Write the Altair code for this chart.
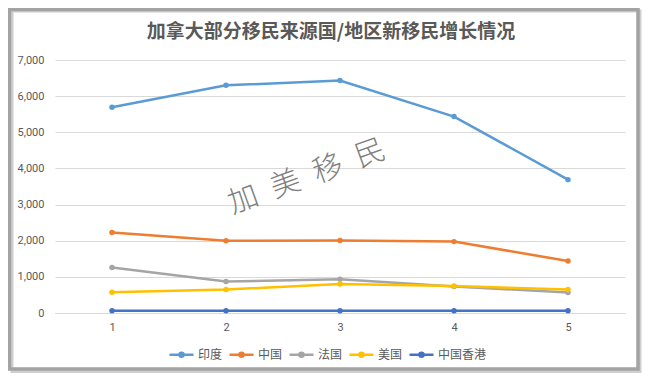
import altair as alt
import pandas as pd

title_text = "加拿大部分移民来源国/地区新移民增长情况"
watermark_text = "加\u2002美\u2002移\u2002民"

years = [1, 2, 3, 4, 5]
series = ["印度", "中国", "法国", "美国", "中国香港"]
india = [5690, 6300, 6430, 5435, 3690]
china = [2230, 2000, 2005, 1975, 1440]
france = [1260, 870, 935, 735, 565]
usa = [575, 650, 800, 745, 650]
hk = [60, 60, 60, 60, 60]
colors = ["#5B9BD5", "#ED7D31", "#A5A5A5", "#FFC000", "#4472C4"]
y_ticks = [0, 1000, 2000, 3000, 4000, 5000, 6000, 7000]

rows = []
for name, vals in zip(series, [india, china, france, usa, hk]):
    for yr, v in zip(years, vals):
        rows.append({"year": yr, "series": name, "value": v})
df = pd.DataFrame(rows)

legend_symbol = "M-1,0H1M-0.17,0A0.17,0.17 0 1,0 0.17,0A0.17,0.17 0 1,0 -0.17,0Z"

lines = alt.Chart(df).mark_line(
    strokeWidth=2.5,
    point=alt.OverlayMarkDef(filled=True, size=30),
).encode(
    x=alt.X("year:O", scale=alt.Scale(type="point", padding=0.5),
            axis=alt.Axis(title=None, labelAngle=0, ticks=False, tickSize=0,
                          labelPadding=8, domainColor="#D9D9D9", grid=False,
                          labelColor="#595959", labelFont="Roboto", labelFontSize=11)),
    y=alt.Y("value:Q", scale=alt.Scale(domain=[0, 7000], nice=False),
            axis=alt.Axis(title=None, values=y_ticks, format=",d", ticks=False, tickSize=0,
                          domain=False, labelPadding=11, gridColor="#D9D9D9",
                          labelColor="#595959", labelFont="Roboto", labelFontSize=11)),
    color=alt.Color("series:N", sort=series,
                    scale=alt.Scale(domain=series, range=colors),
                    legend=alt.Legend(title=None, orient="none", direction="horizontal",
                                      legendX=113, legendY=281, symbolType=legend_symbol,
                                      symbolSize=576, symbolStrokeWidth=2.5,
                                      labelFont="Noto Sans CJK SC", labelFontSize=12,
                                      labelColor="#595959", labelOffset=3,
                                      columnPadding=1, padding=0)),
    order=alt.Order("series_order:Q"),
).transform_calculate(
    series_order="indexof(%s, datum.series)" % str(series)
)

one = pd.DataFrame({"t": [title_text]})
frame_shadow = alt.Chart(one).mark_rect(filled=False, stroke="#CFCFCF", strokeWidth=3).encode(
    x=alt.value(-43), x2=alt.value(585), y=alt.value(-49), y2=alt.value(311.5))
frame = alt.Chart(one).mark_rect(filled=False, stroke="#A3A3A3", strokeWidth=3.5).encode(
    x=alt.value(-45.5), x2=alt.value(583), y=alt.value(-50.5), y2=alt.value(309))

title = alt.Chart(one).mark_text(
    font="Noto Sans CJK SC", fontSize=19, fontWeight="bold", color="#595959",
    align="center", baseline="middle"
).encode(text="t:N", x=alt.value(276), y=alt.value(-28))

wm = pd.DataFrame({"w": [watermark_text]})
watermark = alt.Chart(wm).mark_text(
    font="Noto Sans CJK SC", fontSize=30, fontWeight=300, color="#7F7F7F",
    align="center", baseline="middle", angle=340
).encode(text="w:N", x=alt.value(252), y=alt.value(117))

chart = alt.layer(frame_shadow, frame, title, watermark, lines).properties(
    width=570, height=253,
    autosize=alt.AutoSizeParams(type="none"),
    padding={"left": 47, "top": 52, "right": 17, "bottom": 60},
    background="white",
).configure_view(stroke=None)

chart.save("out.html", embed_options={"renderer": "svg", "actions": False})
